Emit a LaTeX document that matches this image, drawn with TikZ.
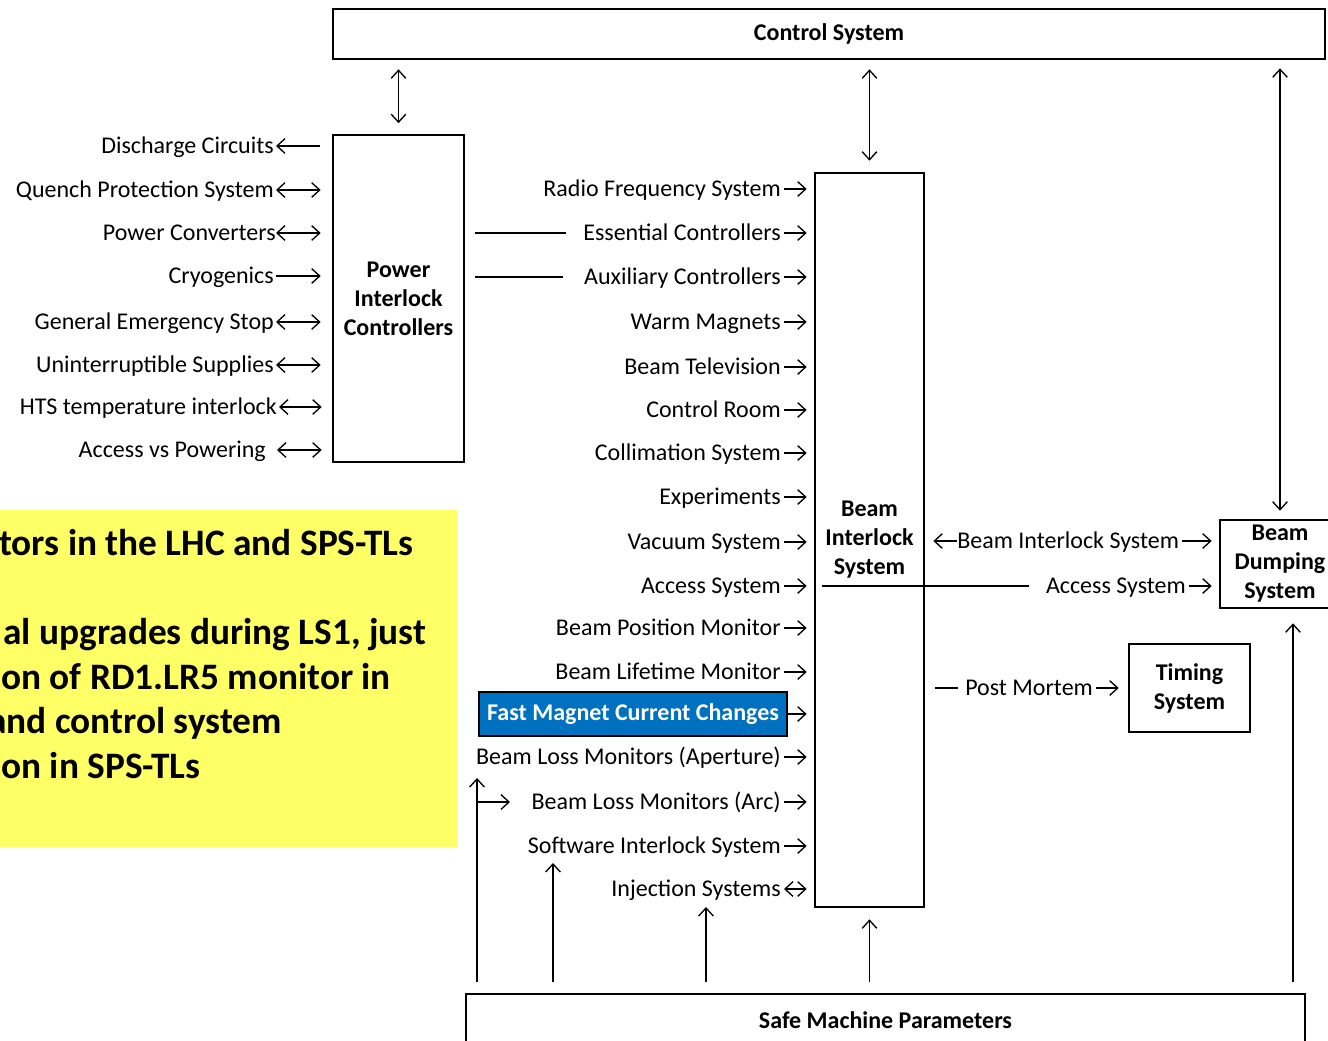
\documentclass[tikz,border=0pt]{standalone}
\usepackage{fontspec}
\setmainfont{Carlito}
\usetikzlibrary{arrows.meta}
\definecolor{yel}{HTML}{FFFF66}
\definecolor{fmblue}{HTML}{0070C0}
\begin{document}
\begin{tikzpicture}[x=0.75pt,y=-0.75pt,
  lblfont/.style={font=\fontsize{18}{21.75}\selectfont},
  lbl/.style={lblfont, inner sep=0pt, text height=11.6pt, text depth=0pt, anchor=east},
  lblw/.style={lbl, anchor=west},
  boxn/.style={draw, line width=2pt, font=\fontsize{18}{21.75}\selectfont\bfseries, align=center, inner sep=0pt},
  ytxt/.style={font=\fontsize{28}{34}\selectfont\bfseries, inner sep=0pt, text height=18pt, text depth=0pt, anchor=west},
  ln/.style={line width=1pt},
  arr/.style={line width=1pt, -{Straight Barb[length=6pt,width=11pt]}},
  darr/.style={line width=1pt, {Straight Barb[length=6pt,width=11pt]}-{Straight Barb[length=6pt,width=11pt]}}
]
\useasboundingbox (0,0) rectangle (1328,1040);
\fill[white] (0,0) rectangle (1328,1040);

% yellow note
\fill[yel] (-20,510) rectangle (457,847);
\node[ytxt] (y1) at (-1,543) {tors in the LHC and SPS-TLs};
\node[ytxt] (y2) at (3,632) {al upgrades during LS1, just};
\node[ytxt] (y3) at (1,677) {on of RD1.LR5 monitor in};
\node[ytxt] (y4) at (-12,721) {and control system};
\node[ytxt] (y5) at (1,766) {on in SPS-TLs};

% boxes
\node[boxn, minimum width=744pt, minimum height=37.5pt] (cs) at (829,34) {Control System};
\node[boxn, minimum width=98.25pt, minimum height=245.25pt] (pic) at (398.5,298.5) {Power\\Interlock\\Controllers};
\node[boxn, minimum width=81.75pt, minimum height=550.5pt] (bis) at (869.5,540) {\raisebox{-2pt}{\begin{tabular}{@{}c@{}}Beam\\Interlock\\System\end{tabular}}};
\node[boxn, minimum width=90pt, minimum height=66pt] (bds) at (1280,564) {\raisebox{-2pt}{\begin{tabular}{@{}c@{}}Beam\\Dumping\\System\end{tabular}}};
\node[boxn, minimum width=90.75pt, minimum height=66pt] (ts) at (1189.5,688) {Timing\\System};
\node[boxn, minimum width=629.25pt, minimum height=39pt] (smp) at (885.5,1020) {Safe Machine Parameters};

% left labels
\node[lbl] (dc)   at (274,146) {Discharge Circuits};
\node[lbl] (qps)  at (274,190) {Quench Protection System};
\node[lbl] (pc)   at (276,233) {Power Converters};
\node[lbl] (cryo) at (274,276) {Cryogenics};
\node[lbl] (ges)  at (274,322) {General Emergency Stop};
\node[lbl] (ups)  at (274,365) {Uninterruptible Supplies};
\node[lbl] (hts)  at (277,407) {HTS temperature interlock};
\node[lbl] (avp)  at (266,450) {Access vs Powering};

\draw[arr,  shorten <=8.6pt, shorten >=1.5pt] (dc.east -| pic.west) -- (dc.east);
\draw[darr, shorten <=1.5pt, shorten >=8.25pt] (qps.east) -- (qps.east -| pic.west);
\draw[darr, shorten <=0pt,   shorten >=8.25pt] (pc.east) -- (pc.east -| pic.west);
\draw[arr,  shorten <=1.5pt, shorten >=8.25pt] (cryo.east) -- (cryo.east -| pic.west);
\draw[darr, shorten <=1.5pt, shorten >=8.25pt] (ges.east) -- (ges.east -| pic.west);
\draw[darr, shorten <=1.5pt, shorten >=8.25pt] (ups.east) -- (ups.east -| pic.west);
\draw[darr, shorten <=1.5pt, shorten >=7.5pt]  (hts.east) -- (hts.east -| pic.west);
\draw[darr, shorten <=8.25pt, shorten >=7.5pt] (avp.east) -- (avp.east -| pic.west);

% middle labels
\node[lbl] (rfs)  at (781,189) {Radio Frequency System};
\node[lbl] (ec)   at (781,233) {Essential Controllers};
\node[lbl] (ac)   at (781,277) {Auxiliary Controllers};
\node[lbl] (wm)   at (781,322) {Warm Magnets};
\node[lbl] (bt)   at (781,367) {Beam Television};
\node[lbl] (cr)   at (781,410) {Control Room};
\node[lbl] (col)  at (781,453) {Collimation System};
\node[lbl] (exp)  at (781,497) {Experiments};
\node[lbl] (vac)  at (781,542) {Vacuum System};
\node[lbl] (acc)  at (781,586) {Access System};
\node[lbl] (bpm)  at (781,628) {Beam Position Monitor};
\node[lbl] (blm)  at (781,672) {Beam Lifetime Monitor};
\node[draw=black, line width=1.5pt, fill=fmblue, text=white, font=\fontsize{18}{21.75}\selectfont\bfseries,
      minimum width=231pt, minimum height=33pt, inner sep=0pt] (fmcc) at (633,714) {Fast Magnet Current Changes};
\node[lbl] (blma) at (781,757) {Beam Loss Monitors (Aperture)};
\node[lbl] (blmc) at (781,802) {Beam Loss Monitors (Arc)};
\node[lbl] (sis)  at (781,846) {Software Interlock System};
\node[lbl] (inj)  at (781,889) {Injection Systems};

\foreach \n in {rfs,ec,ac,wm,bt,cr,col,exp,vac,acc,bpm,blm,blma,blmc,sis}{
  \draw[arr, shorten <=2.25pt, shorten >=5.25pt] (\n.east) -- (\n.east -| bis.west);
}
\draw[arr, shorten >=5.25pt] (fmcc.east) -- (fmcc.east -| bis.west);
\draw[darr, shorten <=2.25pt, shorten >=5.25pt] (inj.east) -- (inj.east -| bis.west);

\draw[ln, shorten <=7.5pt, shorten >=12.75pt] (ec.west -| pic.east) -- (ec.west);
\draw[ln, shorten <=7.5pt, shorten >=15.75pt] (ac.west -| pic.east) -- (ac.west);

% right of BIS
\node[lblw] (bil) at (957,541) {Beam Interlock System};
\draw[arr, shorten >=6pt] (bil.west) -- (bil.west -| bis.east);
\draw[arr, shorten <=2.25pt, shorten >=5.25pt] (bil.east) -- (bil.east -| bds.west);

\node[lbl] (acc2) at (1186,586) {Access System};
\coordinate (accin) at (822,586);
\draw[ln, shorten >=12.75pt] (accin) -- (accin -| acc2.west);
\draw[arr, shorten <=2.25pt, shorten >=5.25pt] (acc2.east) -- (acc2.east -| bds.west);

\node[lblw] (pm) at (965,688) {Post Mortem};
\draw[ln, shorten <=7.5pt, shorten >=5.25pt] (bis.east |- pm.west) -- (pm.west);
\draw[arr, shorten <=2.25pt, shorten >=6.75pt] (pm.east) -- (pm.east -| ts.west);

% top connectors
\draw[darr, shorten <=6.75pt, shorten >=7.9pt] (cs.south -| pic.north) -- (pic.north);
\draw[darr, shorten <=6.75pt, shorten >=8.25pt] (cs.south -| bis.north) -- (bis.north);
\draw[darr, shorten <=6pt, shorten >=6pt] (cs.south -| bds.north) -- (bds.north);

% bottom connectors
\coordinate (t1) at (477,778);
\coordinate (t2) at (553,863);
\coordinate (t3) at (706,907);
\coordinate (t5) at (1293,0);
\draw[arr, shorten <=8.25pt] (smp.north -| t1) -- (t1);
\draw[arr, shorten <=8.25pt] (smp.north -| t2) -- (t2);
\draw[arr, shorten <=8.25pt] (smp.north -| t3) -- (t3);
\draw[arr, shorten <=8.25pt, shorten >=8.25pt] (smp.north -| bis.south) -- (bis.south);
\draw[arr, shorten <=8.25pt, shorten >=10.5pt] (smp.north -| t5) -- (bds.south -| t5);

\coordinate (br) at (477,802);
\coordinate (brtip) at (510,802);
\draw[arr] (br) -- (brtip);
\end{tikzpicture}
\end{document}
